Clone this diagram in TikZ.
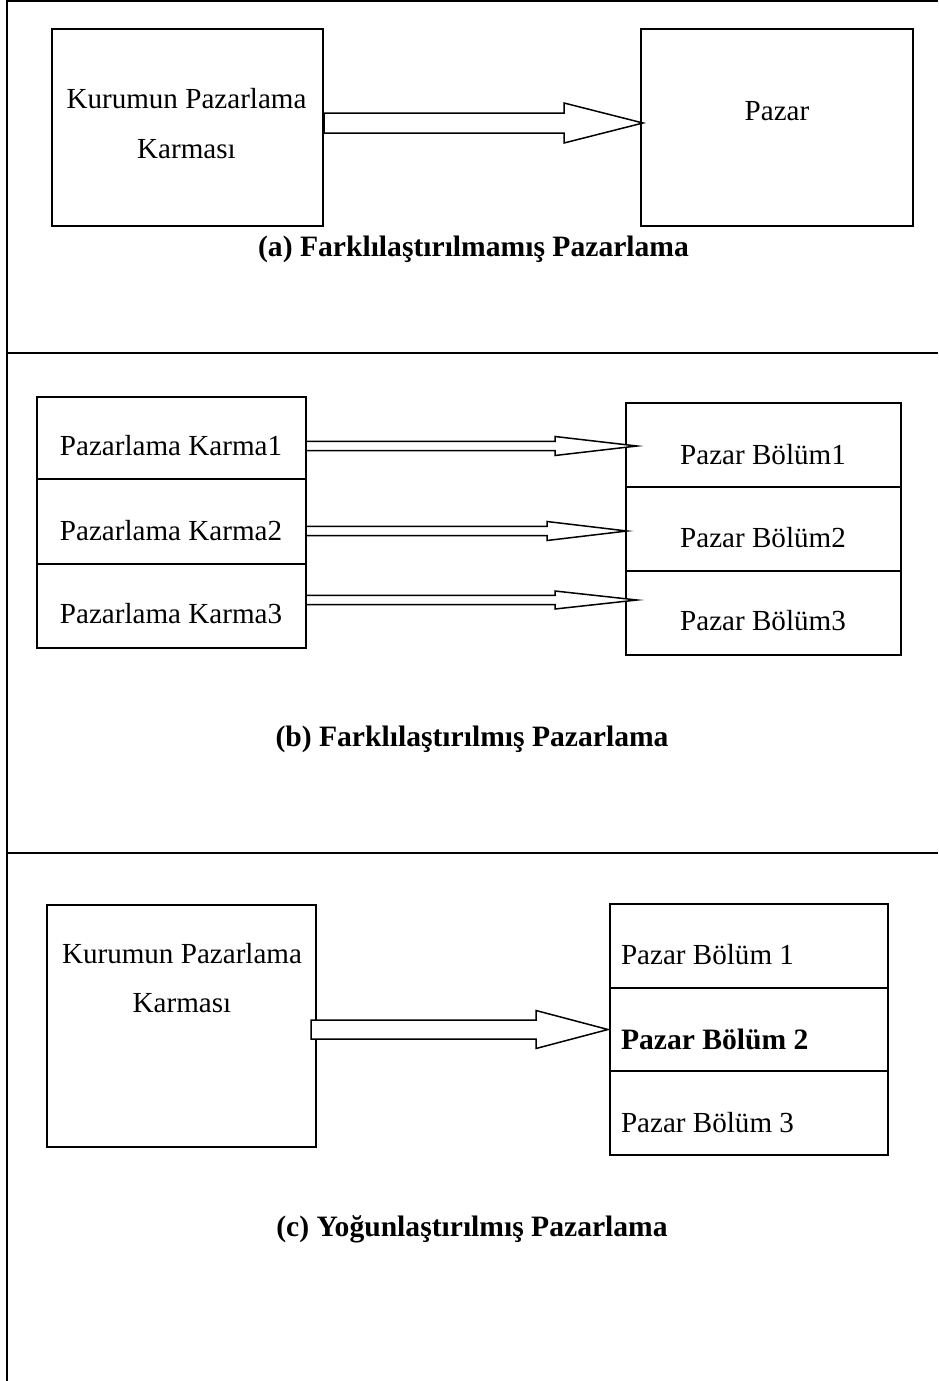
\documentclass[tikz,border=0pt]{standalone}
\usepackage{fontspec}
\setmainfont{Liberation Serif}
\newcommand\myblockarrow[7]{% name, x0, xh, xt, y, half shaft, half head
  \coordinate (#1s) at (#2,#5);
  \coordinate (#1t) at (#4,#5);
  \draw[barrow] (#2,#5-#6) -- (#3,#5-#6) -- (#3,#5-#7) -- (#1t) -- (#3,#5+#7) -- (#3,#5+#6) -- (#2,#5+#6) -- cycle;}
\begin{document}
\begin{tikzpicture}[x=1pt,y=-1pt,line width=2pt,
  box/.style={draw, rectangle, inner sep=0pt, outer sep=0pt, anchor=north west},
  txt/.style={font=\fontsize{29.1}{34}\selectfont, inner sep=0pt, anchor=base},
  ltxt/.style={font=\fontsize{29.1}{34}\selectfont, inner sep=0pt, anchor=base west},
  captxt/.style={font=\fontsize{29.6}{34}\selectfont\bfseries, inner sep=0pt, anchor=base},
  barrow/.style={draw, fill=white, line width=1.5pt, line join=miter}]
\useasboundingbox (0,0) rectangle (938,1381);
% frame
\coordinate (f1) at (7,1381);
\coordinate (f2) at (7,1.5);
\coordinate (f3) at (938,1.5);
\coordinate (d1a) at (7,353);
\coordinate (d1b) at (938,353);
\coordinate (d2a) at (7,853);
\coordinate (d2b) at (938,853);
\draw (f1) -- (f2) -- (f3);
\draw (d1a) -- (d1b);
\draw (d2a) -- (d2b);
% (a)
\node[box, minimum width=271, minimum height=197] (aL) at (52,29) {};
\node[box, minimum width=272, minimum height=197] (aR) at (641,29) {};
\node[txt] (aLt1) at (186.5,108) {Kurumun Pazarlama};
\node[txt] (aLt2) at (186.5,158) {Karması};
\node[txt] (aRt) at (777,120) {Pazar};
\myblockarrow{aA}{324}{564}{643}{123}{10}{20}
\node[captxt] (capA) at (473.5,256) {(a) Farklılaştırılmamış Pazarlama};
% (b)
\node[box, minimum width=269, minimum height=82] (bL1) at (37,397) {};
\node[box, minimum width=269, minimum height=85] (bL2) at (37,479) {};
\node[box, minimum width=269, minimum height=84] (bL3) at (37,564) {};
\node[box, minimum width=275, minimum height=84] (bR1) at (626,403) {};
\node[box, minimum width=275, minimum height=84] (bR2) at (626,487) {};
\node[box, minimum width=275, minimum height=84] (bR3) at (626,571) {};
\node[txt] (bL1t) at (171,455) {Pazarlama Karma1};
\node[txt] (bL2t) at (171,540) {Pazarlama Karma2};
\node[txt] (bL3t) at (171,623) {Pazarlama Karma3};
\node[txt] (bR1t) at (763,464) {Pazar Bölüm1};
\node[txt] (bR2t) at (763,547) {Pazar Bölüm2};
\node[txt] (bR3t) at (763,630) {Pazar Bölüm3};
\myblockarrow{bA1}{306}{555}{637}{446}{4.7}{9.5}
\myblockarrow{bA2}{306}{547}{627}{531}{4.7}{9.5}
\myblockarrow{bA3}{306}{555}{637}{600}{4.7}{9}
\node[captxt] (capB) at (472,746) {(b) Farklılaştırılmış Pazarlama};
% (c)
\node[box, minimum width=269, minimum height=242] (cL) at (47,905) {};
\node[box, minimum width=278, minimum height=84] (cR1) at (610,904) {};
\node[box, minimum width=278, minimum height=83] (cR2) at (610,988) {};
\node[box, minimum width=278, minimum height=84] (cR3) at (610,1071) {};
\node[txt] (cLt1) at (182,963) {Kurumun Pazarlama};
\node[txt] (cLt2) at (182,1012) {Karması};
\node[ltxt] (cR1t) at (620,964) {Pazar Bölüm 1};
\node[ltxt, font=\fontsize{29.6}{34}\selectfont\bfseries] (cR2t) at (620,1049) {Pazar Bölüm 2};
\node[ltxt] (cR3t) at (620,1132) {Pazar Bölüm 3};
\myblockarrow{cA}{311}{536}{608}{1029.5}{9.5}{19}
\node[captxt] (capC) at (472,1236) {(c) Yoğunlaştırılmış Pazarlama};
\end{tikzpicture}
\end{document}
